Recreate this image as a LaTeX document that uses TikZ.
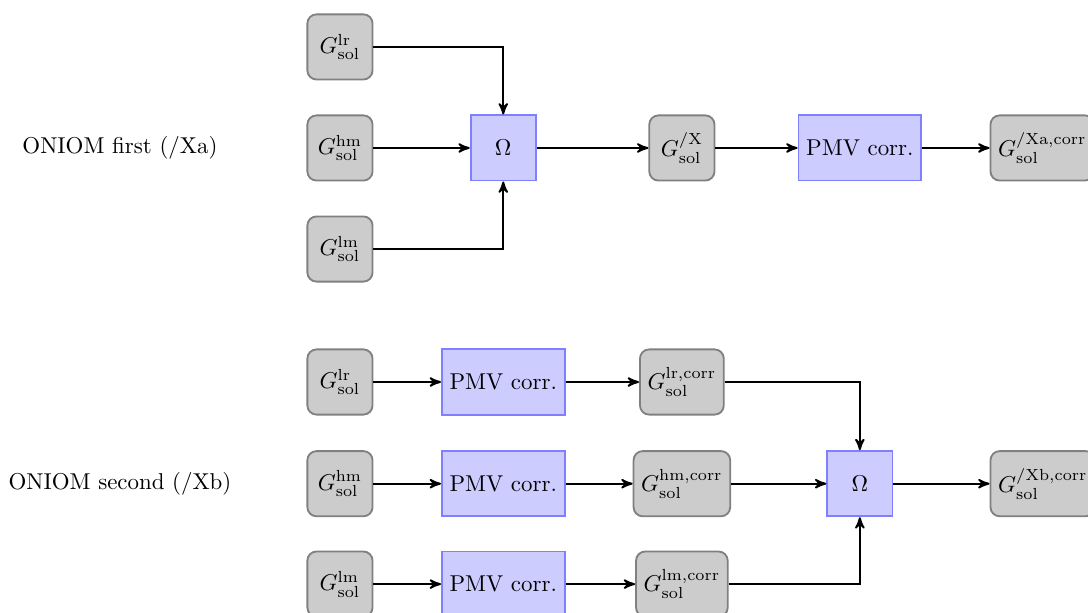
\documentclass[tikz,border=0pt]{standalone}
\usetikzlibrary{arrows,positioning}

\newcommand{\Gsol}[1]{$G^{\mathrm{#1}}_{\mathrm{sol}}$}

\begin{document}
\begin{tikzpicture} [
	>=stealth',
	line/.style = {->, thick},
	gbox/.style = {draw=black!50, thick, fill=black!20, rounded corners, minimum width=1cm, minimum height=1cm},
	bbox/.style = {draw=blue!50, thick, fill=blue!20, minimum width=1cm, minimum height=1cm}
]
\useasboundingbox (0,0) rectangle (16.69,-9.39);

% first scheme
\node (first) at (1.84,-2.27) {ONIOM first (/Xa)};
\node [gbox] (a-lr) at (5.215,-0.72) {\Gsol{lr}};
\node [gbox] (a-hm) at (5.215,-2.27) {\Gsol{hm}};
\node [gbox] (a-lm) at (5.215,-3.82) {\Gsol{lm}};
\node [bbox] (a-om) at (7.72,-2.27) {$\Omega$};
\node [gbox] (a-x) at (10.46,-2.27) {\Gsol{/X}};
\node [bbox] (a-pmv) at (13.19,-2.27) {PMV corr.};
\node [gbox, anchor=west] (a-out) at (15.18,-2.27) {\Gsol{/Xa,corr}};

\draw [line] (a-lr.east) -| (a-om.north);
\draw [line] (a-hm) -- (a-om);
\draw [line] (a-lm.east) -| (a-om.south);
\draw [line] (a-om) -- (a-x);
\draw [line] (a-x) -- (a-pmv);
\draw [line] (a-pmv) -- (a-out);

% second scheme
\node (second) at (1.84,-7.42) {ONIOM second (/Xb)};
\node [gbox] (b-lr) at (5.215,-5.86) {\Gsol{lr}};
\node [gbox] (b-hm) at (5.215,-7.42) {\Gsol{hm}};
\node [gbox] (b-lm) at (5.215,-8.96) {\Gsol{lm}};
\node [bbox] (b-pmv1) at (7.72,-5.86) {PMV corr.};
\node [bbox] (b-pmv2) at (7.72,-7.42) {PMV corr.};
\node [bbox] (b-pmv3) at (7.72,-8.96) {PMV corr.};
\node [gbox] (b-lrc) at (10.46,-5.86) {\Gsol{lr,corr}};
\node [gbox] (b-hmc) at (10.46,-7.42) {\Gsol{hm,corr}};
\node [gbox] (b-lmc) at (10.46,-8.96) {\Gsol{lm,corr}};
\node [bbox] (b-om) at (13.19,-7.42) {$\Omega$};
\node [gbox, anchor=west] (b-out) at (15.18,-7.42) {\Gsol{/Xb,corr}};

\draw [line] (b-lr) -- (b-pmv1);
\draw [line] (b-hm) -- (b-pmv2);
\draw [line] (b-lm) -- (b-pmv3);
\draw [line] (b-pmv1) -- (b-lrc);
\draw [line] (b-pmv2) -- (b-hmc);
\draw [line] (b-pmv3) -- (b-lmc);
\draw [line] (b-lrc.east) -| (b-om.north);
\draw [line] (b-hmc) -- (b-om);
\draw [line] (b-lmc.east) -| (b-om.south);
\draw [line] (b-om) -- (b-out);
\end{tikzpicture}
\end{document}
